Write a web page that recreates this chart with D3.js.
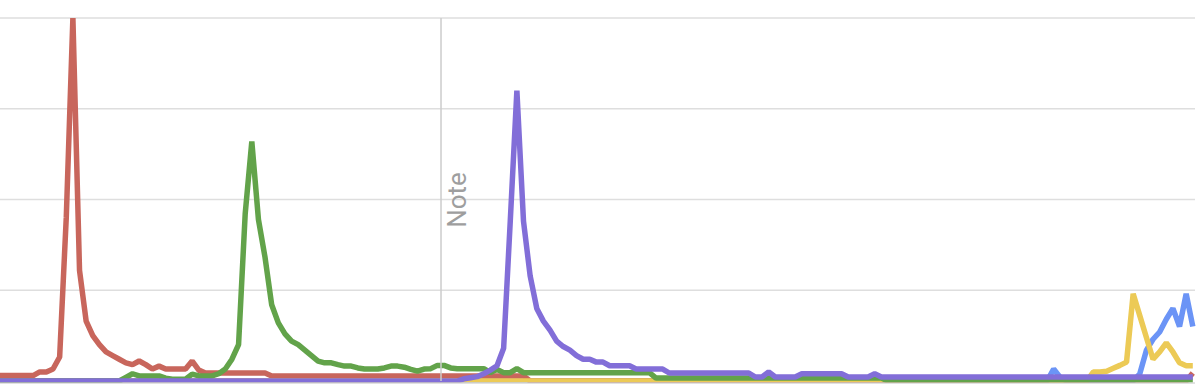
<!DOCTYPE html>
<html>
<head>
<meta charset="utf-8">
<script src="https://cdn.jsdelivr.net/npm/d3@7"></script>
<style>
html,body{margin:0;padding:0;background:#fff;overflow:hidden}
svg{display:block}
</style>
</head>
<body>
<svg id="chart" width="1200" height="389"></svg>
<script>
// ---- data (one value per period, 181 periods) ----
const red = [
1.5,1.5,1.5,1.5,1.5,1.5,2.5,2.5,3.3,6.6,
45,100,30.5,16.5,12.5,10,8,7,6,5,
4.5,5.5,4.5,3.3,4.1,3.3,3.3,3.3,3.3,5.5,
3,2.2,2.2,2.2,2.2,2.2,2.2,2.2,2.2,2.2,
2.2,1.4,1.4,1.4,1.4,1.4,1.4,1.4,1.4,1.4,
1.4,1.4,1.4,1.4,1.4,1.4,1.4,1.4,1.4,1.4,
1.4,1.4,1.4,1.4,1.4,1.4,1.4,1.4,1.4,1.4,
1.4,1.4,1.4,1.4,1.4,1.4,1.4,1.4,1.4,1.4,
0,0,0,0,0,0,0,0,0,0,
0,0,0,0,0,0,0,0,0,0,
0,0,0,0,0,0,0,0,0,0,
0,0,0,0,0,0,0,0,0,0,
0,0,0,0,0,0,0,0,0,0,
0,0,0,0,0,0,0,0,0,0,
0,0,0,0,0,0,0,0,0,0,
0,0,0,0,0,0,0,0,0,0,
0,0,0,0,0,0,0,0,0,0,
0,0,0,0,0,0,0,0,0,0,
2.2
];
const green = [
0,0,0,0,0,0,0,0,0,0,
0,0,0,0,0,0,0,0,0,1,
2,1.4,1.4,1.4,1.4,0.8,0.5,0.5,0.5,1.9,
1.4,1.4,1.4,2,3.3,6,10,46,66,44.5,
34,21,16,13,11,10,8.5,7,5.5,5,
5,4.5,4.1,4.1,3.6,3.3,3.3,3.3,3.6,4.1,
4.1,3.8,3.2,2.7,3.3,3.4,4.3,4.3,3.6,3.4,
3.4,3.4,3.4,3.4,2.3,3.2,2.3,2.3,3.4,2.3,
2.3,2.3,2.3,2.3,2.3,2.3,2.3,2.3,2.3,2.3,
2.3,2.3,2.3,2.3,2.3,2.3,2.3,2.3,2.3,0.8,
0.8,0.8,0.8,0.8,0.8,0.8,0.8,0.8,0.8,0.8,
0.8,0.8,0.8,0.8,0.8,0.8,0.8,0.8,0.8,0.8,
0.8,0.8,0.8,0.8,0.8,0.8,0.8,0.8,0.8,0.8,
0.8,0.8,0.8,0.8,0,0,0,0,0,0,
0,0,0,0,0,0,0,0,0,0,
0,0,0,0,0,0,0,0,0,0,
0,0,0,0,0,0,0,0,0,0,
0,0,0,0,0,0,0,0,0,0,
0
];
const yellow = [
0,0,0,0,0,0,0,0,0,0,
0,0,0,0,0,0,0,0,0,0,
0,0,0,0,0,0,0,0,0,0,
0,0,0,0,0,0,0,0,0,0,
0,0,0,0,0,0,0,0,0,0,
0,0,0,0,0,0,0,0,0,0,
0,0,0,0,0,0,0,0,0,0,
0,0,0,0,0,0,0,0,0,0,
0,0,0,0,0,0,0,0,0,0,
0,0,0,0,0,0,0,0,0,0,
0,0,0,0,0,0,0,0,0,0,
0,0,0,0,0,0,0,0,0,0,
0,0,0,0,0,0,0,0,0,0,
0,0,0,0,0,0,0,0,0,0,
0,0,0,0,0,0,0,0,0,0,
0,0,0,0,0,0,0,0,0,0,
0,0,0,0,0,2.5,2.5,2.7,3.5,4.3,
5.2,24,18,12,6,8,10.5,8,5,4.2,
4.2
];
const blue = [
0,0,0,0,0,0,0,0,0,0,
0,0,0,0,0,0,0,0,0,0,
0,0,0,0,0,0,0,0,0,0,
0,0,0,0,0,0,0,0,0,0,
0,0,0,0,0,0,0,0,0,0,
0,0,0,0,0,0,0,0,0,0,
0,0,0,0,0,0,0,0,0,0,
0,0,0,0,0,0,0,0,0,0,
0,0,0,0,0,0,0,0,0,0,
0,0,0,0,0,0,0,0,0,0,
0,0,0,0,0,0,0,0,0,0,
0,0,0,0,0,0,0,0,0,0,
0,0,0,0,0,0,0,0,0,0,
0,0,0,0,0,0,0,0,0,0,
0,0,0,0,0,0,0,0,0,0,
0,0,0,0,0,0,0,0,0,3.3,
1,0,0,0,0,0,0,0,0,0,
0,0,2,8.5,11.5,13.5,17,20,15,24,
15
];
const purple = [
0,0,0,0,0,0,0,0,0,0,
0,0,0,0,0,0,0,0,0,0,
0,0,0,0,0,0,0,0,0,0,
0,0,0,0,0,0,0,0,0,0,
0,0,0,0,0,0,0,0,0,0,
0,0,0,0,0,0,0,0,0,0,
0,0,0,0,0,0,0,0,0,0,
0.6,0.9,1.2,2,3,4.2,9,44,80,44,
29,20,16.5,14,11,9.5,8.5,7,6,6,
5.2,5.2,4.2,4.2,4.2,4.2,3.3,3.3,3.3,3.3,
3.3,2.2,2.2,2.2,2.2,2.2,2.2,2.2,2.2,2.2,
2.2,2.2,2.2,2.2,1.1,1.1,2.5,1.1,1.1,1.1,
1.1,2,2,2,2,2,2,2,1.1,1.1,
1.1,1.1,2,1.1,1.1,1.1,1.1,1.1,1.1,1.1,
1.1,1.1,1.1,1.1,1.1,1.1,1.1,1.1,1.1,1.1,
1.1,1.1,1.1,1.1,1.1,1.1,1.1,1.1,1.1,1.1,
1.1,1.1,1.1,1.1,1.1,1.1,1.1,1.1,1.1,1.1,
1.1,1.1,1.1,1.1,1.1,1.1,1.1,1.1,1.1,1.1,
1.1
];
const gridValues = [25, 50, 75, 100];
const noteIndex = 66.55;
const noteLabel = "Note";

// drawing order (later on top)
const seriesList = [
  {name: "blue", values: blue, color: "#6b94f6"},
  {name: "red", values: red, color: "#c8665c"},
  {name: "yellow", values: yellow, color: "#ecca56"},
  {name: "green", values: green, color: "#62a34a"},
  {name: "purple", values: purple, color: "#826ed8"}
];

const svg = d3.select("#chart");
const x = d3.scaleLinear().domain([0, red.length - 1]).range([0, 1192.8]);
const y = d3.scaleLinear().domain([0, 100]).range([381, 18]);
const gridRight = 1195;

// clip for plot area
svg.append("defs").append("clipPath").attr("id", "plot")
  .append("rect").attr("x", -10).attr("y", 0)
  .attr("width", 1220).attr("height", y(0) + 1.2);

// gridlines
svg.append("g").selectAll("line").data(gridValues).join("line")
  .attr("x1", 0).attr("x2", gridRight)
  .attr("y1", d => y(d)).attr("y2", d => y(d))
  .attr("stroke", "#dedede").attr("stroke-width", 1.5);

// baseline
svg.append("line")
  .attr("x1", 0).attr("x2", gridRight)
  .attr("y1", y(0) + 2).attr("y2", y(0) + 2)
  .attr("stroke", "#c4c4c4").attr("stroke-width", 1);

// series lines
const line = d3.line().x((d, i) => x(i)).y(d => y(d));
svg.append("g").attr("clip-path", "url(#plot)")
  .selectAll("path").data(seriesList).join("path")
  .attr("d", d => line(d.values))
  .attr("fill", "none")
  .attr("stroke", d => d.color)
  .attr("stroke-width", 5.5)
  .attr("stroke-linejoin", "bevel");

// annotation line + label
svg.append("line")
  .attr("x1", x(noteIndex)).attr("x2", x(noteIndex))
  .attr("y1", y(100)).attr("y2", y(0))
  .attr("stroke", "#cccccc").attr("stroke-width", 1.5);

svg.append("text")
  .attr("transform", `translate(${x(noteIndex) + 25},200) rotate(-90)`)
  .attr("text-anchor", "middle")
  .attr("font-family", "Roboto, 'Liberation Sans', Arial, sans-serif")
  .attr("font-size", 26)
  .attr("fill", "#9e9e9e")
  .text(noteLabel);
</script>
</body>
</html>
